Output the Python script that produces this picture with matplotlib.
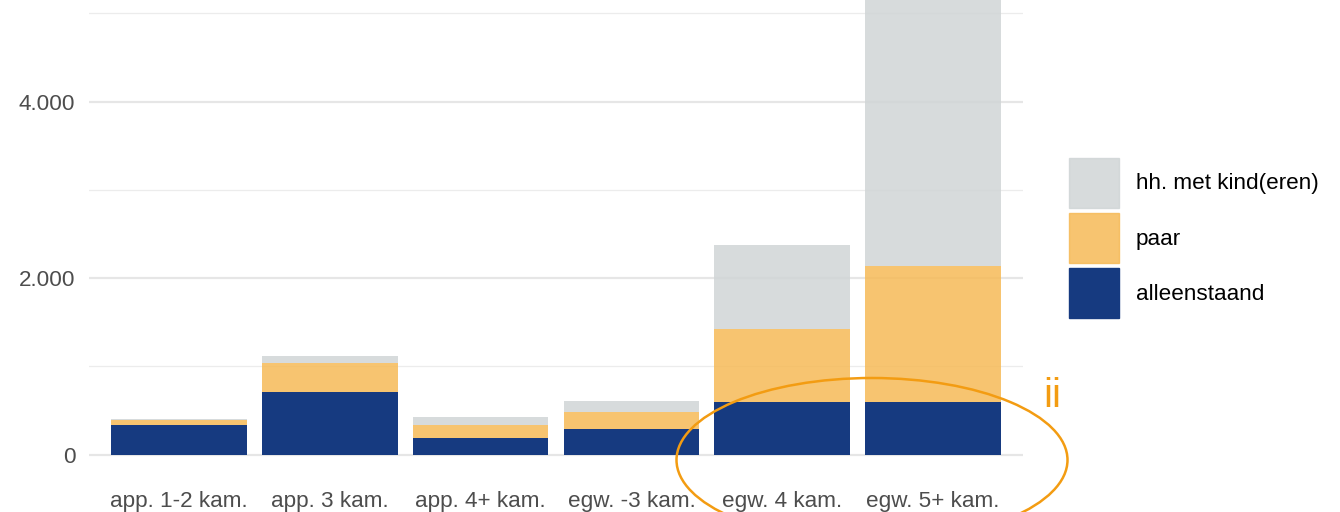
import numpy as np
import matplotlib
matplotlib.use('Agg')
import matplotlib.pyplot as plt
from matplotlib.patches import Ellipse, Rectangle

plt.rcParams['font.family'] = ['Liberation Sans', 'DejaVu Sans']

categories = ['app. 1-2 kam.', 'app. 3 kam.', 'app. 4+ kam.',
              'egw. -3 kam.', 'egw. 4 kam.', 'egw. 5+ kam.']
alleenstaand = [340, 706, 188, 287, 597, 597]
paar = [49, 329, 148, 196, 832, 1538]
kinderen = [11, 83, 90, 125, 941, 3500]
series_names = ['alleenstaand', 'paar', 'hh. met kind(eren)']
y_major = [0, 2000, 4000]
y_labels = ['0', '2.000', '4.000']
y_minor = [1000, 3000, 5000]

c_navy = '#163a80'
c_orange = '#f6ba57'
c_gray = '#d0d5d6'

fig = plt.figure(figsize=(13.4, 5.12), dpi=100)
ax = fig.add_axes([88.5 / 1340, 0, 935 / 1340, 1])

x = np.arange(len(categories))
b1 = np.array(alleenstaand)
b2 = b1 + np.array(paar)
ax.bar(x, alleenstaand, width=0.9, color=c_navy, zorder=2)
ax.bar(x, paar, width=0.9, bottom=b1, color=c_orange, alpha=0.85, zorder=2)
ax.bar(x, kinderen, width=0.9, bottom=b2, color=c_gray, alpha=0.85, zorder=2)

ax.set_xlim(-0.6, len(categories) - 0.4)
ax.set_ylim(-650, 5151)
ax.set_xticks([])
ax.set_yticks(y_major)
ax.set_yticklabels(y_labels)
ax.set_yticks(y_minor, minor=True)
ax.tick_params(axis='y', which='both', length=0, pad=9.5, labelsize=16.2,
               labelcolor='#4d4d4d')
ax.grid(axis='y', which='major', color='#e6e6e6', lw=1.6, zorder=1)
ax.grid(axis='y', which='minor', color='#ececec', lw=0.9, zorder=1)
for s in ax.spines.values():
    s.set_visible(False)

for i, lab in enumerate(categories):
    ax.text(i, 1 - 501 / 512, lab, transform=ax.get_xaxis_transform(),
            ha='center', va='center', fontsize=16.2, color='#4d4d4d')

# legend drawn by hand: 50px squares, 5px apart
W, H = 1340, 512
leg_colors = [c_gray, c_orange, c_navy]
leg_names = series_names[::-1]
for k, (col, name) in enumerate(zip(leg_colors, leg_names)):
    top = 158 + k * 55
    fig.patches.append(Rectangle((1069 / W, 1 - (top + 50) / H), 50 / W, 50 / H,
                                 transform=fig.transFigure, color=col,
                                 alpha=0.85 if col != c_navy else 1))
    fig.text(1136 / W, 1 - (top + 26) / H, name, fontsize=16.2,
             ha='left', va='center', color='black')

# annotation
ell = Ellipse((872 / W, 1 - 460 / H), 391 / W, 164 / H,
              transform=fig.transFigure, fill=False, edgecolor='#f39c12',
              lw=1.8, clip_on=False)
fig.patches.append(ell)
fig.text(1052 / W, 1 - 396 / H, 'ii', color='#f39c12', fontsize=29,
         ha='center', va='center')

fig.savefig('out.png', dpi=100)
